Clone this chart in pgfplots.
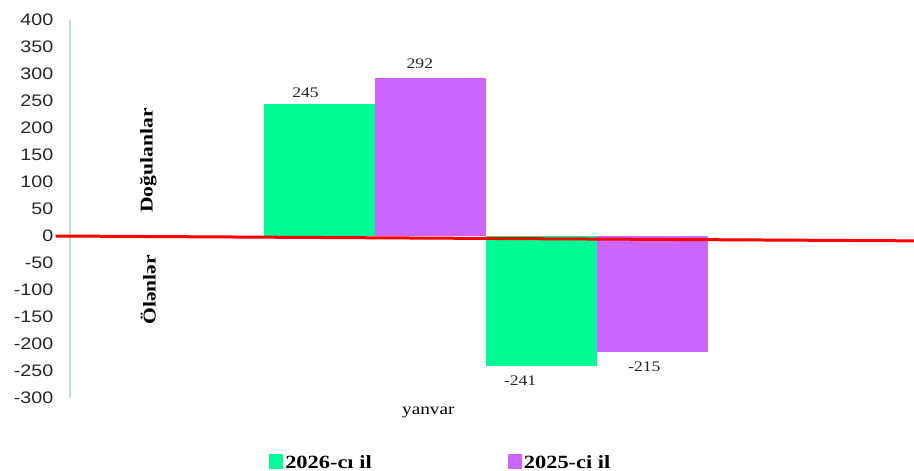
\documentclass[border=0pt]{standalone}
\usepackage{pgfplots}
\pgfplotsset{compat=1.18}
\usepackage{fontspec}
\setmainfont{Liberation Serif}[FakeStretch=1.2]
\newfontfamily\ticksfont{Liberation Sans}[FakeStretch=1.18]
\definecolor{cgreen}{RGB}{0,250,150}
\definecolor{cpurple}{RGB}{204,102,255}
\definecolor{axblue}{RGB}{189,215,238}
\pgfplotsset{
  mybar/.style={ybar, bar width=83.25pt, bar shift=0pt, draw=none, fill=#1, forget plot,
    nodes near coords, nodes near coords style={font=\fontsize{11}{13}\selectfont, text=black!85}},
}
\begin{document}
\begin{tikzpicture}
\path[use as bounding box] (0,0) rectangle (685.5pt,353.25pt);
\begin{axis}[
  at={(52.5pt,54.75pt)}, anchor=south west,
  scale only axis, width=624pt, height=283.5pt,
  xmin=-3.75, xmax=3.75, ymin=-300, ymax=400,
  ytick={-300,-250,...,400},
  axis x line=none,
  axis y line=left,
  y axis line style={axblue, line width=1pt, -},
  major tick length=0pt,
  yticklabel style={font=\ticksfont\fontsize{12.5}{14}\selectfont, xshift=-9pt, text=black!85},
  /pgf/number format/assume math mode=true,
  clip=false,
  legend style={at={(0.446,-0.172)}, anchor=center, draw=none, fill=none, legend columns=2,
    font=\bfseries\fontsize{14}{16}\selectfont,
    /tikz/every even column/.append style={column sep=100pt}},
]
\addlegendimage{legend image code/.code={\fill[cgreen] (0pt,-4pt) rectangle (9.75pt,6.5pt);}}
\addlegendentry{2026-cı il}
\addlegendimage{legend image code/.code={\fill[cpurple] (0pt,-4pt) rectangle (9.75pt,6.5pt);}}
\addlegendentry{2025-ci il}

\addplot[mybar=cgreen, nodes near coords style={xshift=-10.5pt, yshift=1pt}] coordinates {(-1.5,245)};
\addplot[mybar=cpurple, nodes near coords style={xshift=-8pt, yshift=4pt}] coordinates {(-0.5,292)};
\addplot[mybar=cgreen, nodes near coords style={xshift=-16pt, yshift=-4pt}] coordinates {(0.5,-241)};
\addplot[mybar=cpurple, nodes near coords style={xshift=-6pt, yshift=-4pt}] coordinates {(1.5,-215)};

\addplot[red, line width=2.25pt, sharp plot, no marks] coordinates {(-3.88,0) (3.86,-9)};

\node[rotate=90, font=\bfseries\fontsize{13.5}{15}\selectfont] at (axis cs:-3.045,140) {Doğulanlar};
\node[rotate=90, font=\bfseries\fontsize{13.5}{15}\selectfont] at (axis cs:-3.045,-100) {Ölənlər};
\node[font=\fontsize{12}{14}\selectfont, yshift=-11pt] at (axis cs:-0.52,-300) {yanvar};
\end{axis}
\end{tikzpicture}
\end{document}
